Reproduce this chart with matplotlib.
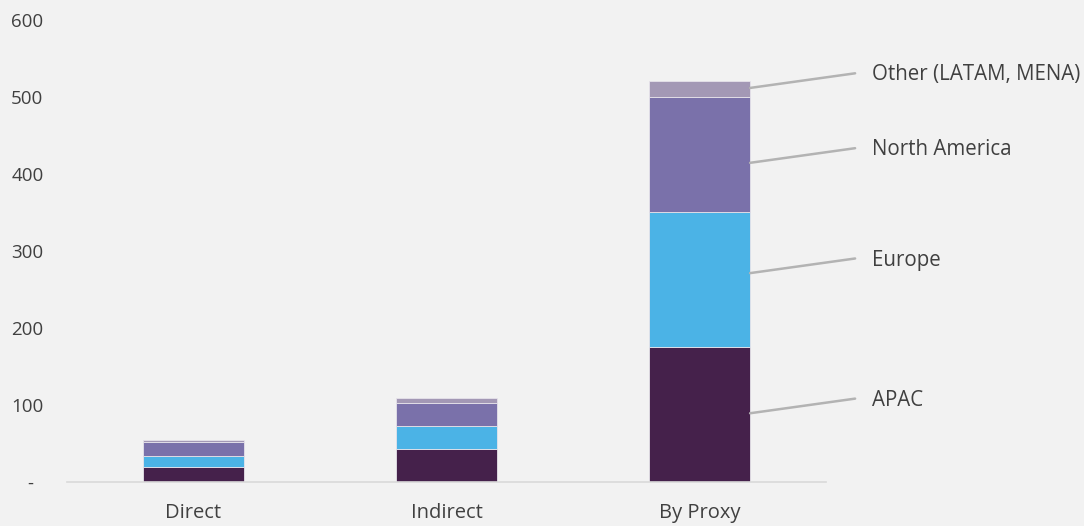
import matplotlib
matplotlib.use("Agg")
import matplotlib.pyplot as plt
import numpy as np

# Respondent counts by channel, split by region
channels = ["Direct", "Indirect", "By Proxy"]
regions = ["APAC", "Europe", "North America", "Other (LATAM, MENA)"]
apac = [20, 43, 175]
europe = [14, 30, 175]
north_america = [18, 30, 150]
other = [3, 6, 21]
y_ticks = [0, 100, 200, 300, 400, 500, 600]
y_tick_labels = ["-  ", "100", "200", "300", "400", "500", "600"]

colors = ["#45214b", "#4bb3e6", "#7a71aa", "#a398b5"]
# where along each segment of the last bar its leader line starts
anchor_frac = [0.51, 0.55, 0.43, 0.56]
bg = "#f2f2f2"
text_color = "#404040"

plt.rcParams["font.family"] = ["Open Sans", "DejaVu Sans"]

fig = plt.figure(figsize=(10.84, 5.26), dpi=100, facecolor=bg)
ax = fig.add_axes([0.0618, 0.0837, 0.7002, 0.8783], facecolor=bg)

x = np.arange(len(channels))
width = 0.4
bottom = np.zeros(len(channels))
stacks = [apac, europe, north_america, other]
for values, color in zip(stacks, colors):
    ax.bar(x, values, width, bottom=bottom, color=color,
           edgecolor="#e6e3ea", linewidth=0.6, zorder=2)
    bottom += np.array(values)

# Leader lines and region labels next to the last bar
last = len(channels) - 1
right_edge = x[last] + width / 2
base = 0.0
for values, name, frac in zip(stacks, regions, anchor_frac):
    start = base + values[last] * frac
    base += values[last]
    ax.annotate("", xy=(right_edge, start), xytext=(2.615, start + 19),
                arrowprops=dict(arrowstyle="-", color="#b3b3b3", lw=1.8,
                                shrinkA=0, shrinkB=0),
                annotation_clip=False)
    ax.text(2.68, start + 17, name, fontsize=14.8, color=text_color,
            va="center", ha="left", clip_on=False)

ax.set_xlim(-0.5, 2.5)
ax.set_ylim(0, 600)
ax.set_xticks(x, channels)
ax.set_yticks(y_ticks, y_tick_labels)
ax.tick_params(axis="both", length=0, labelcolor=text_color)
ax.tick_params(axis="y", pad=17, labelsize=13.5)
ax.tick_params(axis="x", pad=15, labelsize=14.5)

for side in ["top", "right", "left"]:
    ax.spines[side].set_visible(False)
ax.spines["bottom"].set_color("#d9d9d9")
ax.spines["bottom"].set_linewidth(1.2)

fig.savefig("out.png", dpi=100, facecolor=bg)
